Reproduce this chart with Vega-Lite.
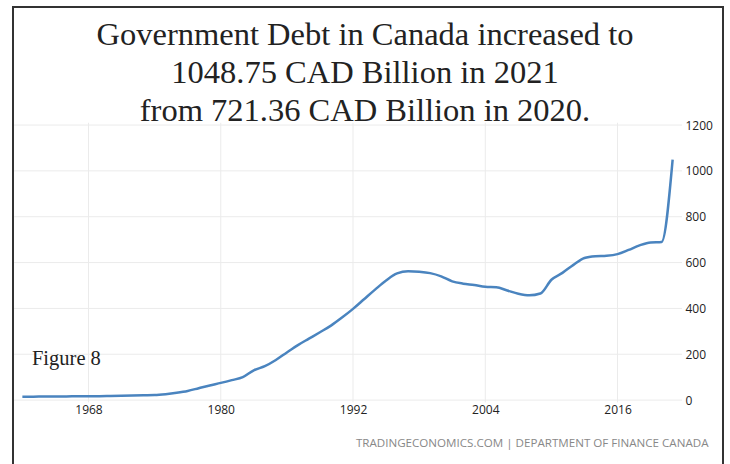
{
  "$schema": "https://vega.github.io/schema/vega-lite/v6.json",
  "width": 710,
  "height": 463,
  "autosize": {"type": "none"},
  "padding": {"left": 13, "top": 7, "right": 7, "bottom": 0},
  "background": "white",
  "config": {
    "view": {"stroke": "#333", "strokeWidth": 2}
  },
  "title": {
    "text": ["Government Debt in Canada increased to", "1048.75 CAD Billion in 2021", "from 721.36 CAD Billion in 2020."],
    "font": "Liberation Serif",
    "fontSize": 32.5,
    "fontWeight": "normal",
    "color": "#222",
    "lineHeight": 38,
    "anchor": "middle",
    "orient": "top",
    "offset": -120,
    "dx": -3
  },
  "datasets": {
    "debt": [
      {"year": 1962, "value": 15}, {"year": 1963, "value": 15}, {"year": 1964, "value": 16},
      {"year": 1965, "value": 16}, {"year": 1966, "value": 16}, {"year": 1967, "value": 17},
      {"year": 1968, "value": 17}, {"year": 1969, "value": 17}, {"year": 1970, "value": 18},
      {"year": 1971, "value": 19}, {"year": 1972, "value": 20}, {"year": 1973, "value": 21},
      {"year": 1974, "value": 22}, {"year": 1975, "value": 26}, {"year": 1976, "value": 32},
      {"year": 1977, "value": 40}, {"year": 1978, "value": 52}, {"year": 1979, "value": 64},
      {"year": 1980, "value": 75}, {"year": 1981, "value": 87}, {"year": 1982, "value": 100},
      {"year": 1983, "value": 130}, {"year": 1984, "value": 148}, {"year": 1985, "value": 175},
      {"year": 1986, "value": 208}, {"year": 1987, "value": 240}, {"year": 1988, "value": 268},
      {"year": 1989, "value": 296}, {"year": 1990, "value": 325}, {"year": 1991, "value": 360},
      {"year": 1992, "value": 398}, {"year": 1993, "value": 440}, {"year": 1994, "value": 482},
      {"year": 1995, "value": 522}, {"year": 1996, "value": 553}, {"year": 1997, "value": 562},
      {"year": 1998, "value": 560}, {"year": 1999, "value": 554}, {"year": 2000, "value": 540},
      {"year": 2001, "value": 518}, {"year": 2002, "value": 508}, {"year": 2003, "value": 502},
      {"year": 2004, "value": 494}, {"year": 2005, "value": 492}, {"year": 2006, "value": 478},
      {"year": 2007, "value": 464}, {"year": 2008, "value": 457}, {"year": 2009, "value": 465},
      {"year": 2010, "value": 525}, {"year": 2011, "value": 555}, {"year": 2012, "value": 590},
      {"year": 2013, "value": 620}, {"year": 2014, "value": 628}, {"year": 2015, "value": 630},
      {"year": 2016, "value": 637}, {"year": 2017, "value": 655}, {"year": 2018, "value": 675},
      {"year": 2019, "value": 688}, {"year": 2020, "value": 690}, {"year": 2021, "value": 1049}
    ],
    "hgrid": [{"v": 0}, {"v": 200}, {"v": 400}, {"v": 600}, {"v": 800}, {"v": 1000}, {"v": 1200}],
    "vgrid": [{"yr": 1968}, {"yr": 1980}, {"yr": 1992}, {"yr": 2004}, {"yr": 2016}]
  },
  "layer": [
    {
      "data": {"name": "hgrid"},
      "mark": {"type": "rule", "color": "#ebebeb", "strokeWidth": 1},
      "encoding": {
        "y": {"field": "v", "type": "quantitative", "scale": {"domain": [-305, 1715], "nice": false, "zero": false},
              "axis": {"orient": "right", "offset": -40, "values": [0, 200, 400, 600, 800, 1000, 1200], "format": "d", "domain": false, "ticks": false, "grid": false,
                       "labelPadding": 2, "labelFont": "Open Sans", "labelFontSize": 12, "labelColor": "#222", "labelAlign": "left", "title": null}},
        "x": {"datum": 1961.25, "type": "quantitative", "scale": {"domain": [1961.15, 2025.57], "nice": false, "zero": false},
              "axis": {"orient": "bottom", "offset": -70, "values": [1968, 1980, 1992, 2004, 2016], "format": "d", "domain": false, "ticks": false, "grid": false,
                       "labelPadding": 4, "labelFont": "Open Sans", "labelFontSize": 12, "labelColor": "#222",
                       "title": "TRADINGECONOMICS.COM | DEPARTMENT OF FINANCE CANADA",
                       "titleFont": "Open Sans", "titleFontSize": 11.6, "titleFontWeight": "normal", "titleColor": "#888",
                       "titleAnchor": "end", "titleAlign": "right", "titleX": 695, "titleY": 43, "titleBaseline": "middle"}},
        "x2": {"datum": 2021.85}
      }
    },
    {
      "data": {"name": "vgrid"},
      "mark": {"type": "rule", "color": "#ebebeb", "strokeWidth": 1},
      "encoding": {
        "x": {"field": "yr", "type": "quantitative"},
        "y": {"datum": -10, "type": "quantitative"},
        "y2": {"datum": 1210}
      }
    },
    {
      "data": {"name": "debt"},
      "mark": {"type": "line", "color": "#4a84bf", "strokeWidth": 2.5, "interpolate": "monotone"},
      "encoding": {
        "x": {"field": "year", "type": "quantitative"},
        "y": {"field": "value", "type": "quantitative"}
      }
    },
    {
      "data": {"values": [{"label": "Figure 8"}]},
      "mark": {"type": "text", "font": "Liberation Serif", "fontSize": 20.5, "color": "#222", "align": "left", "baseline": "middle"},
      "encoding": {
        "text": {"field": "label"},
        "x": {"datum": 1962.87, "type": "quantitative"},
        "y": {"datum": 180, "type": "quantitative"}
      }
    }
  ]
}
